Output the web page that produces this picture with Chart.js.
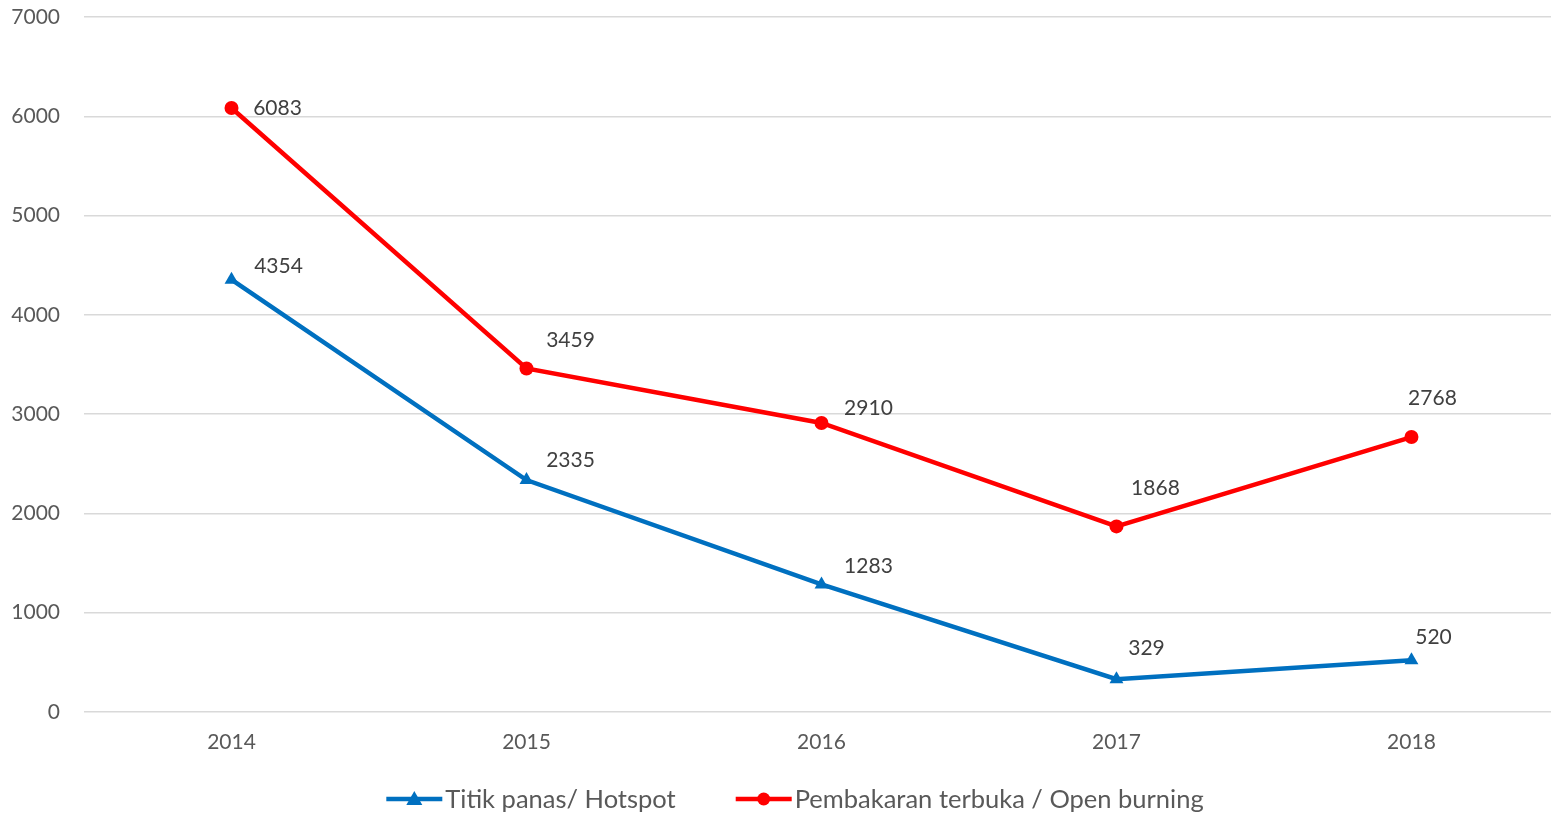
<!DOCTYPE html>
<html>
<head>
<meta charset="utf-8">
<script src="https://cdn.jsdelivr.net/npm/chart.js@4.4.0/dist/chart.umd.min.js"></script>
<style>
  html, body { margin: 0; padding: 0; background: #fff; overflow: hidden; }
  #chart1 { display: block; }
</style>
</head>
<body>
<canvas id="chart1" width="1551" height="815"></canvas>
<script>
// chart data
var years = [2014, 2015, 2016, 2017, 2018];
var hotspot = [4354, 2335, 1283, 329, 520];
var openBurning = [6083, 3459, 2910, 1868, 2768];
var yTicks = [0, 1000, 2000, 3000, 4000, 5000, 6000, 7000];

// label placement (pixel offsets of label centre from its point)
var hotspotLabelOffsets = [[47, -13], [44, -20], [47, -18], [30, -31], [22, -23]];
var burningLabelOffsets = [[46, 0], [44, -28], [47, -15], [39, -38], [21, -39]];

var BLUE = '#0070C0';
var RED = '#FF0000';
var FONT = 'Lato, "Open Sans", sans-serif';

function toPoints(values) {
  return values.map(function (v, i) { return { x: years[i], y: v }; });
}

// data labels next to each point
var dataLabels = {
  id: 'dataLabels',
  afterDatasetsDraw: function (chart) {
    var ctx = chart.ctx;
    ctx.save();
    ctx.font = '21px ' + FONT;
    ctx.fillStyle = '#404040';
    ctx.textAlign = 'center';
    ctx.textBaseline = 'middle';
    chart.data.datasets.forEach(function (ds, i) {
      var meta = chart.getDatasetMeta(i);
      meta.data.forEach(function (pt, j) {
        var off = ds.labelOffsets[j];
        ctx.fillText(String(ds.data[j].y), pt.x + off[0], pt.y + off[1]);
      });
    });
    ctx.restore();
  }
};

// legend: line + marker + text, centred under chart
var lineLegend = {
  id: 'lineLegend',
  afterDraw: function (chart) {
    var ctx = chart.ctx;
    var y = 799;
    var lineLen = 56, gapText = 3, gapItem = 60;
    ctx.save();
    ctx.font = '25.5px ' + FONT;
    ctx.textBaseline = 'middle';
    var items = chart.data.datasets;
    var total = 0;
    items.forEach(function (ds, i) {
      total += lineLen + gapText + ctx.measureText(ds.label).width;
      if (i < items.length - 1) total += gapItem;
    });
    var x = 795 - total / 2;
    items.forEach(function (ds) {
      ctx.strokeStyle = ds.borderColor;
      ctx.fillStyle = ds.borderColor;
      ctx.lineWidth = 4.5;
      ctx.beginPath();
      ctx.moveTo(x, y);
      ctx.lineTo(x + lineLen, y);
      ctx.stroke();
      var cx = x + lineLen / 2;
      ctx.beginPath();
      if (ds.pointStyle === 'triangle') {
        ctx.moveTo(cx, y - 8);
        ctx.lineTo(cx + 8, y + 6);
        ctx.lineTo(cx - 8, y + 6);
        ctx.closePath();
      } else {
        ctx.arc(cx, y, 6.5, 0, Math.PI * 2);
      }
      ctx.fill();
      x += lineLen + gapText;
      ctx.fillStyle = '#595959';
      ctx.textAlign = 'left';
      ctx.fillText(ds.label, x, y + 1);
      x += ctx.measureText(ds.label).width + gapItem;
    });
    ctx.restore();
  }
};

var ctx1 = document.getElementById('chart1');
new Chart(ctx1, {
  type: 'line',
  data: {
    datasets: [{
      label: 'Titik panas/ Hotspot',
      data: toPoints(hotspot),
      labelOffsets: hotspotLabelOffsets,
      borderColor: BLUE,
      backgroundColor: BLUE,
      borderWidth: 4.5,
      pointStyle: 'triangle',
      pointRadius: 8,
      pointBorderWidth: 0,
      tension: 0
    }, {
      label: 'Pembakaran terbuka / Open burning',
      data: toPoints(openBurning),
      labelOffsets: burningLabelOffsets,
      borderColor: RED,
      backgroundColor: RED,
      borderWidth: 4.5,
      pointStyle: 'circle',
      pointRadius: 7,
      pointBorderWidth: 0,
      tension: 0
    }]
  },
  options: {
    responsive: false,
    animation: false,
    layout: { autoPadding: false, padding: { top: 17, right: 0, bottom: 42, left: 0 } },
    plugins: {
      legend: { display: false },
      tooltip: { enabled: false }
    },
    scales: {
      x: {
        type: 'linear',
        // half a category before the first year; plot is cut at the right edge
        min: 2013.5,
        max: 2018.473,
        afterBuildTicks: function (axis) {
          axis.ticks = years.map(function (v) { return { value: v }; });
        },
        afterFit: function (axis) {
          axis.paddingLeft = 0;
          axis.paddingRight = 0;
        },
        grid: { display: false, drawTicks: false },
        border: { display: false },
        ticks: {
          color: '#595959',
          font: { family: FONT, size: 21 },
          padding: 18,
          maxRotation: 0,
          callback: function (v) { return String(v); }
        }
      },
      y: {
        min: 0,
        max: 7000,
        afterBuildTicks: function (axis) {
          axis.ticks = yTicks.map(function (v) { return { value: v }; });
        },
        afterFit: function (axis) {
          axis.width = 84;
          axis.paddingTop = 0;
          axis.paddingBottom = 0;
        },
        grid: { color: '#D9D9D9', lineWidth: 1.5, drawTicks: false },
        border: { display: false },
        ticks: {
          color: '#595959',
          font: { family: FONT, size: 21 },
          padding: 24,
          callback: function (v) { return String(v); }
        }
      }
    }
  },
  plugins: [dataLabels, lineLegend]
});
</script>
</body>
</html>
